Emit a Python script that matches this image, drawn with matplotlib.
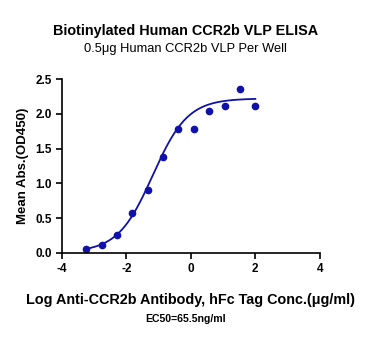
import numpy as np
import matplotlib
matplotlib.use('Agg')
import matplotlib.pyplot as plt

plt.rcParams['font.family'] = ['Liberation Sans', 'DejaVu Sans']
plt.rcParams['axes.unicode_minus'] = False

# 数据：log 浓度 (μg/ml) 与 OD450
log_conc = [2.0, 1.523, 1.046, 0.569, 0.092, -0.386, -0.863, -1.340,
            -1.817, -2.294, -2.771, -3.248]
od450 = [2.11, 2.35, 2.11, 2.04, 1.78, 1.78, 1.38, 0.90,
         0.57, 0.25, 0.11, 0.05]

# 四参数拟合曲线参数
bottom, top, log_ec50, hill = 0.01, 2.22, -1.184, 0.8

color = '#1010AA'

fig = plt.figure(figsize=(3.71, 3.45), dpi=100)
ax = fig.add_axes([0.167, 0.267, 0.695, 0.504])

xs = np.linspace(min(log_conc), max(log_conc), 300)
ys = bottom + (top - bottom) / (1 + 10 ** ((log_ec50 - xs) * hill))
ax.plot(xs, ys, color=color, lw=1.3)
ax.plot(log_conc, od450, 'o', color=color, ms=4.5)

ax.set_xlim(-4, 4)
ax.set_ylim(0, 2.5)
ax.set_xticks([-4, -2, 0, 2, 4])
ax.set_yticks([0, 0.5, 1.0, 1.5, 2.0, 2.5])
ax.set_yticklabels(['0.0', '0.5', '1.0', '1.5', '2.0', '2.5'])
for s in ['top', 'right']:
    ax.spines[s].set_visible(False)
for s in ['left', 'bottom']:
    ax.spines[s].set_linewidth(1.2)
ax.tick_params(direction='out', length=4, width=1.2, labelsize=8.5)
for lbl in ax.get_xticklabels() + ax.get_yticklabels():
    lbl.set_fontweight('bold')

ax.set_ylabel('Mean Abs.(OD450)', fontsize=9.5, fontweight='bold')
ax.set_xlabel('Log Anti-CCR2b Antibody, hFc Tag Conc.(μg/ml)',
              fontsize=10.4, fontweight='bold', labelpad=13)

fig.text(0.5, 0.898, 'Biotinylated Human CCR2b VLP ELISA', ha='center',
         fontsize=10.4, fontweight='bold')
fig.text(0.5, 0.85, '0.5μg Human CCR2b VLP Per Well', ha='center',
         fontsize=9.3)
fig.text(0.5, 0.068, 'EC50=65.5ng/ml', ha='center', fontsize=7.6,
         fontweight='bold')

fig.savefig('out.png', dpi=100)
